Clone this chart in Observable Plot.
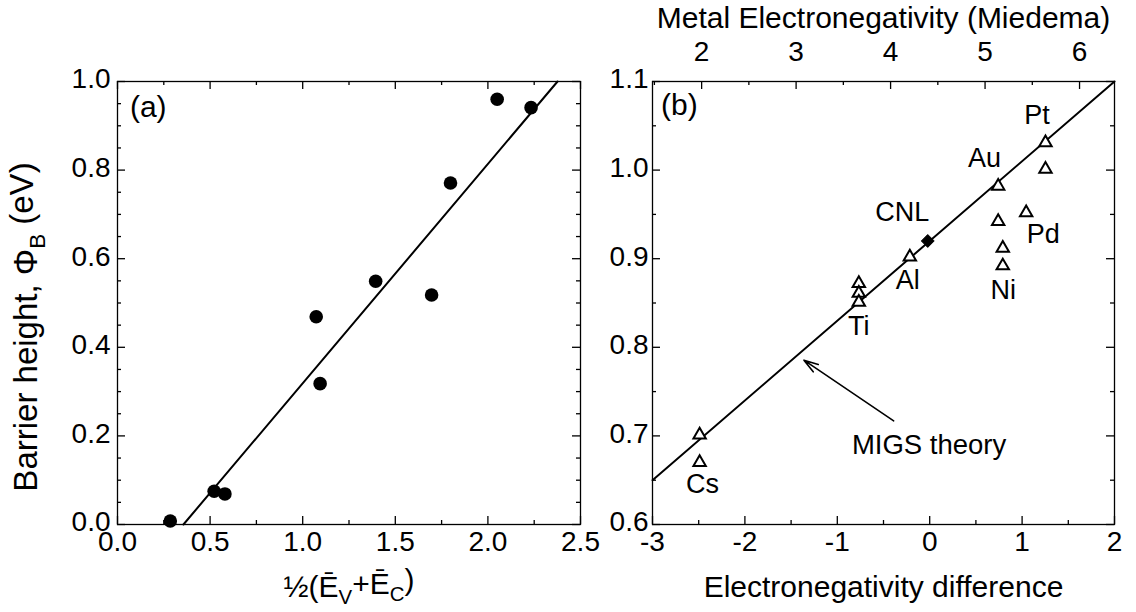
<!DOCTYPE html>
<html><head><meta charset="utf-8">
<script src="https://cdn.jsdelivr.net/npm/d3@7"></script>
<script src="https://cdn.jsdelivr.net/npm/@observablehq/plot@0.6"></script>
<style>
body{margin:0;background:#fff;}
#wrap{position:relative;width:1136px;height:612px;overflow:hidden;background:#fff;}
#wrap svg{position:absolute;left:0;top:0;overflow:visible;background:transparent;}
</style></head><body><div id="wrap"></div>
<script>
// ---------- Panel (a) data ----------
const aX = [0.285, 0.522, 0.580, 1.073, 1.094, 1.394, 1.696, 1.798, 2.050, 2.233];
const aY = [0.008, 0.075, 0.069, 0.469, 0.318, 0.549, 0.518, 0.771, 0.960, 0.941];
const aFitX = [0.356, 2.376];
const aFitY = [0.0, 1.0];
const aXTicks = [0, 0.5, 1.0, 1.5, 2.0, 2.5];
const aXMinor = [0.25, 0.75, 1.25, 1.75, 2.25];
const aYTicks = [0, 0.2, 0.4, 0.6, 0.8, 1.0];
const aYMinor = [0.05, 0.1, 0.15, 0.25, 0.3, 0.35, 0.45, 0.5, 0.55, 0.65, 0.7, 0.75, 0.85, 0.9, 0.95];

// ---------- Panel (b) data ----------
const bMetals = ["Cs", "Cs", "Ti", "Ti", "Ti", "Al", "Au", "Au", "Ni", "Ni", "Pd", "Pt", "Pt"];
const bX = [-2.49, -2.49, -0.767, -0.767, -0.767, -0.215, 0.741, 0.741, 0.791, 0.791, 1.044, 1.253, 1.253];
const bY = [0.701, 0.670, 0.872, 0.861, 0.851, 0.902, 0.982, 0.942, 0.912, 0.892, 0.952, 1.031, 1.001];
const cnlX = [-0.021];
const cnlY = [0.920];
const bFitX = [-3, 2];
const bFitY = [0.650, 1.100];
const bLabels = ["Pt", "Au", "CNL", "Pd", "Al", "Ni", "Ti", "Cs"];
const bLabelX = [1.16, 0.593, -0.298, 1.228, -0.237, 0.795, -0.767, -2.46];
const bLabelY = [1.062, 1.013, 0.9525, 0.928, 0.875, 0.864, 0.824, 0.645];
const migsText = ["MIGS theory"];
const migsTextX = [-0.007];
const migsTextY = [0.690];
const migsArrowFrom = [-0.39, 0.717];
const migsArrowTo = [-1.361, 0.7855];
const bXTicks = [-3, -2, -1, 0, 1, 2];
const bXMinor = [-2.5, -1.5, -0.5, 0.5, 1.5];
const bYTicks = [0.6, 0.7, 0.8, 0.9, 1.0, 1.1];
const bYMinor = [0.65, 0.75, 0.85, 0.95, 1.05];
const miedemaTicks = [2, 3, 4, 5, 6];
const miedemaMinor = [1.5, 2.5, 3.5, 4.5, 5.5];
const miedemaDomain = [1.48, 6.37]; // top-axis values at the frame edges

const FONT = "Liberation Sans, Arial, Helvetica, sans-serif";
const W = 1136, H = 612;
const TICK_FS = 28, TITLE_FS = 30, LABEL_FS = 27;
const MAJ = 8, MIN = 4;
const SW = 1.3;

function rich(svg, match, parts) {
  svg.querySelectorAll("text").forEach(t => {
    if (t.textContent === match) {
      t.textContent = "";
      let shifted = false;
      for (const [s, sub] of parts) {
        const ts = document.createElementNS("http://www.w3.org/2000/svg", "tspan");
        ts.textContent = s;
        if (sub) {
          ts.setAttribute("font-size", "68%");
          if (!shifted) { ts.setAttribute("dy", "0.35em"); shifted = true; }
        } else if (shifted) {
          ts.setAttribute("dy", "-0.35em"); shifted = false;
        }
        t.appendChild(ts);
      }
    }
  });
}

function sideTicks(xs, ys, len, fw, fh, top = true) {
  const o = {stroke: "black", strokeWidth: SW};
  const m = [
    Plot.tickX(xs, {x: d => d, insetTop: fh - len, ...o}),
    Plot.tickY(ys, {y: d => d, insetRight: fw - len, ...o}),
    Plot.tickY(ys, {y: d => d, insetLeft: fw - len, ...o})
  ];
  if (top) m.push(Plot.tickX(xs, {x: d => d, insetBottom: fh - len, ...o}));
  return m;
}

const wrap = document.getElementById("wrap");

// ---------- Panel (a) ----------
{
  const mL = 117, mR = W - 580, mT = 81, mB = H - 524;
  const fw = W - mL - mR, fh = H - mT - mB;
  const pts = aX.map((x, i) => ({x, y: aY[i]}));
  const fit = aFitX.map((x, i) => ({x, y: aFitY[i]}));
  const svg = Plot.plot({
    width: W, height: H,
    marginLeft: mL, marginRight: mR, marginTop: mT, marginBottom: mB,
    style: {fontFamily: FONT, fontSize: TICK_FS + "px", color: "black", background: "transparent"},
    x: {domain: [0, 2.5], axis: null},
    y: {domain: [0, 1.0], axis: null},
    marks: [
      Plot.frame({stroke: "black", strokeWidth: SW}),
      ...sideTicks(aXTicks, aYTicks, MAJ, fw, fh),
      ...sideTicks(aXMinor, aYMinor, MIN, fw, fh),
      Plot.axisX(aXTicks, {anchor: "bottom", label: null, tickSize: 0, tickPadding: 7, fontSize: TICK_FS, tickFormat: d3.format(".1f"), fill: "black"}),
      Plot.axisY(aYTicks, {anchor: "left", label: null, tickSize: 0, tickPadding: 7, dy: -2, fontSize: TICK_FS, tickFormat: d3.format(".1f"), fill: "black"}),
      Plot.line(fit, {x: "x", y: "y", stroke: "black", strokeWidth: 2}),
      Plot.dot(pts, {x: "x", y: "y", r: 6.8, fill: "black", stroke: "none"}),
      Plot.text(["(a)"], {x: [0.166], y: [0.941], text: d => d, fontSize: TITLE_FS, fill: "black", lineAnchor: "middle"}),
      Plot.text(["½(ĒV+ĒC)"], {frameAnchor: "bottom", dy: 63, fontSize: TITLE_FS, fill: "black", lineAnchor: "middle"}),
      Plot.text(["Barrier height, ΦB (eV)"], {frameAnchor: "left", textAnchor: "middle", dx: -91, dy: 24, rotate: -90, fontSize: 33, fill: "black", lineAnchor: "middle"})
    ]
  });
  rich(svg, "½(ĒV+ĒC)", [["½(Ē", false], ["V", true], ["+Ē", false], ["C", true], [")", false]]);
  rich(svg, "Barrier height, ΦB (eV)", [["Barrier height, Φ", false], ["B", true], [" (eV)", false]]);
  wrap.appendChild(svg);
}

// ---------- Panel (b) ----------
{
  const mL = 652, mR = W - 1114, mT = 81, mB = H - 524;
  const fw = W - mL - mR, fh = H - mT - mB;
  const xDom = [-3, 2];
  const toDiff = d3.scaleLinear().domain(miedemaDomain).range(xDom);
  const pts = bX.map((x, i) => ({x, y: bY[i], m: bMetals[i]}));
  const fit = bFitX.map((x, i) => ({x, y: bFitY[i]}));
  const labels = bLabels.map((t, i) => ({t, x: bLabelX[i], y: bLabelY[i]}));
  const o = {stroke: "black", strokeWidth: SW};
  const svg = Plot.plot({
    width: W, height: H,
    marginLeft: mL, marginRight: mR, marginTop: mT, marginBottom: mB,
    style: {fontFamily: FONT, fontSize: TICK_FS + "px", color: "black", background: "transparent"},
    x: {domain: xDom, axis: null},
    y: {domain: [0.6, 1.1], axis: null},
    marks: [
      Plot.frame({stroke: "black", strokeWidth: SW}),
      ...sideTicks(bXTicks, bYTicks, MAJ, fw, fh, false),
      ...sideTicks(bXMinor, bYMinor, MIN, fw, fh, false),
      Plot.tickX(miedemaTicks, {x: m => toDiff(m), insetBottom: fh - MAJ, ...o}),
      Plot.tickX(miedemaMinor, {x: m => toDiff(m), insetBottom: fh - MIN, ...o}),
      Plot.axisX(bXTicks, {anchor: "bottom", label: null, tickSize: 0, tickPadding: 7, fontSize: TICK_FS, tickFormat: d => String(d), fill: "black"}),
      Plot.axisY(bYTicks, {anchor: "left", label: null, tickSize: 0, tickPadding: 4, dy: -2, fontSize: TICK_FS, tickFormat: d3.format(".1f"), fill: "black"}),
      Plot.text(miedemaTicks, {x: m => toDiff(m), text: m => String(m), frameAnchor: "top", dy: -29, fontSize: TICK_FS, fill: "black", lineAnchor: "middle"}),
      Plot.text(["Metal Electronegativity (Miedema)"], {frameAnchor: "top", dy: -63, fontSize: TITLE_FS, fill: "black", lineAnchor: "middle"}),
      Plot.text(["Electronegativity difference"], {frameAnchor: "bottom", dy: 63, fontSize: TITLE_FS, fill: "black", lineAnchor: "middle"}),
      Plot.line(fit, {x: "x", y: "y", stroke: "black", strokeWidth: 2}),
      Plot.dot(pts, {x: "x", y: "y", symbol: "triangle", r: 4.6, fill: "white", stroke: "black", strokeWidth: 2}),
      Plot.dot(cnlX.map((x, i) => ({x, y: cnlY[i]})), {x: "x", y: "y", symbol: "diamond2", r: 5.8, fill: "black", stroke: "black", strokeWidth: 1}),
      Plot.text(labels, {x: "x", y: "y", text: "t", fontSize: LABEL_FS, fill: "black", lineAnchor: "middle"}),
      Plot.text(["(b)"], {x: [-2.71], y: [1.073], text: d => d, fontSize: TITLE_FS, fill: "black", lineAnchor: "middle"}),
      Plot.text(migsText, {x: migsTextX, y: migsTextY, text: d => d, fontSize: 27.5, fill: "black", lineAnchor: "middle"}),
      Plot.arrow([{x1: migsArrowFrom[0], y1: migsArrowFrom[1], x2: migsArrowTo[0], y2: migsArrowTo[1]}],
        {x1: "x1", y1: "y1", x2: "x2", y2: "y2", stroke: "black", strokeWidth: 1.6, headLength: 14, headAngle: 35})
    ]
  });
  wrap.appendChild(svg);
}
</script>
</body></html>
